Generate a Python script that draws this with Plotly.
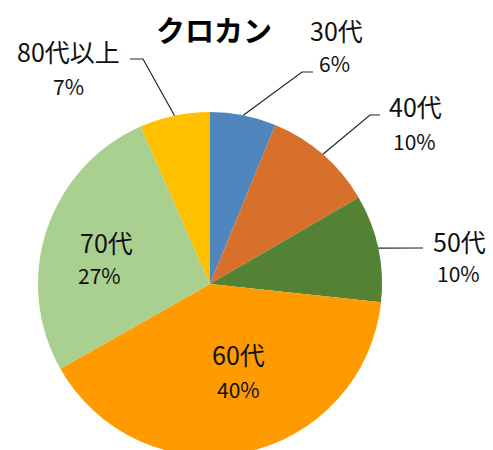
import math
import plotly.graph_objects as go

# ---- data ----
categories = ["30代", "40代", "50代", "60代", "70代", "80代以上"]
values = [6.2, 10.4, 10.1, 40.1, 26.6, 6.6]
pct_labels = ["6%", "10%", "10%", "40%", "27%", "7%"]
colors = ["#4F86BE", "#D6702B", "#548235", "#FF9A00", "#A9D08E", "#FFC000"]

W, H = 493, 456   # slightly taller than the 450 window: the pie bottom is clipped, as in the reference
FONT = "Noto Sans CJK JP"

# pie geometry (pixels)
cx, cy, r = 210, 284, 172

fig = go.Figure(go.Pie(
    labels=categories,
    values=values,
    marker=dict(colors=colors, line=dict(width=0)),
    sort=False,
    direction="clockwise",
    rotation=0,
    textinfo="none",
    hoverinfo="label+percent",
    domain=dict(x=[(cx - r) / W, (cx + r) / W], y=[0, 1 - (cy - r) / H]),
    showlegend=False,
))

def px(x):
    return x / W

def py(y):
    return 1 - y / H

# label positions (pixel centres of the category line, percent line)
label_pos = {
    "30代": ((336, 30), (334, 63)),
    "40代": ((415, 106), (414, 141)),
    "50代": ((459, 241), (458, 273)),
    "60代": ((238, 354), (238, 389)),
    "70代": ((106, 242), (99, 275)),
    "80代以上": ((68, 51), (68, 86)),
}
# leader line elbows (pixels) for outside labels
elbows = {
    "30代": [(302, 72), (313, 72)],
    "40代": [(370, 115), (380, 115)],
    "50代": [(423, 248)],
    "80代以上": [(143, 59), (130, 59)],
}

annotations = []
for cat, pct in zip(categories, pct_labels):
    (x1, y1), (x2, y2) = label_pos[cat]
    annotations.append(dict(x=px(x1), y=py(y1), xref="paper", yref="paper",
                            text=cat, showarrow=False,
                            font=dict(family=FONT, size=25, color="#111111"),
                            xanchor="center", yanchor="middle"))
    annotations.append(dict(x=px(x2), y=py(y2), xref="paper", yref="paper",
                            text=pct, showarrow=False,
                            font=dict(family=FONT, size=21, color="#111111"),
                            xanchor="center", yanchor="middle"))

annotations.append(dict(x=px(214), y=py(29), xref="paper", yref="paper",
                        text="<b>クロカン</b>", showarrow=False,
                        font=dict(family=FONT, size=29, color="#000000"),
                        xanchor="center", yanchor="middle"))

# leader lines start at slice mid-angle on the pie edge
total = sum(values)
shapes = []
cum = 0
for cat, v in zip(categories, values):
    mid = (cum + v / 2) / total * 2 * math.pi
    cum += v
    if cat not in elbows:
        continue
    sx = cx + r * math.sin(mid)
    sy = cy - r * math.cos(mid)
    pts = [(sx, sy)] + elbows[cat]
    path = "M " + " L ".join(f"{px(x):.5f},{py(y):.5f}" for x, y in pts)
    shapes.append(dict(type="path", path=path, xref="paper", yref="paper",
                       line=dict(color="#222222", width=1.2)))

fig.update_layout(
    width=W, height=H,
    margin=dict(l=0, r=0, t=0, b=0),
    paper_bgcolor="white",
    plot_bgcolor="white",
    annotations=annotations,
    shapes=shapes,
)

fig.write_html("out.html",
               config={"displayModeBar": False},
               post_script="document.body.style.margin='0';document.body.style.overflow='hidden';")
